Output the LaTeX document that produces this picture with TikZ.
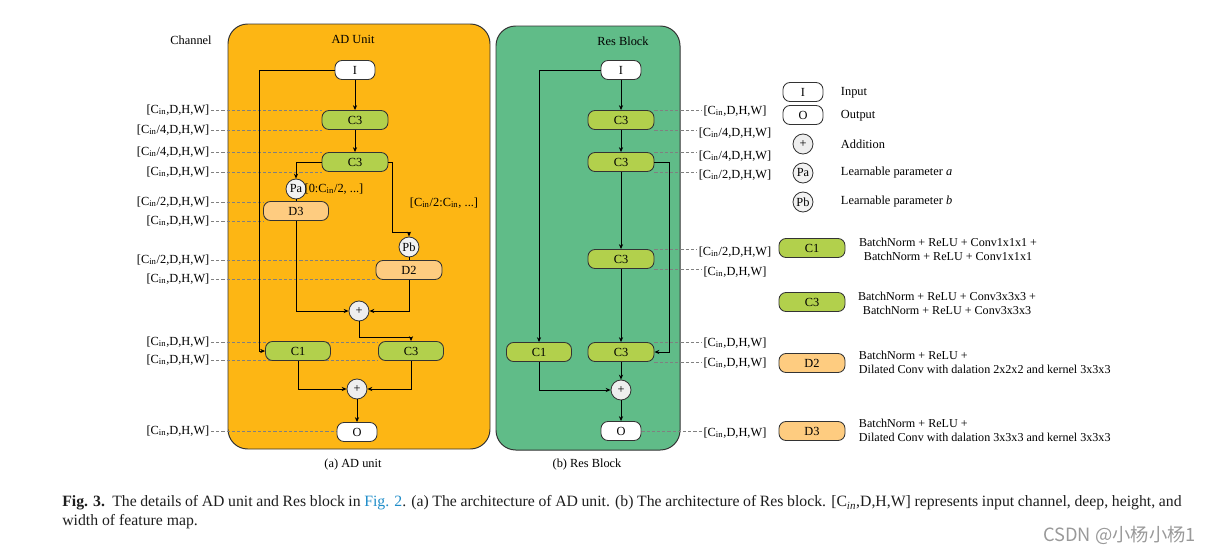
\documentclass[tikz,border=0pt]{standalone}
\usepackage{fontspec}
\setmainfont{Liberation Serif}
\newfontfamily\cjk{Noto Sans CJK SC}
\usetikzlibrary{arrows.meta}
\definecolor{adorange}{RGB}{253,182,20}
\definecolor{resgreen}{RGB}{96,188,136}
\definecolor{cgreen}{RGB}{178,208,76}
\definecolor{dorange}{RGB}{254,204,128}
\definecolor{plusgray}{RGB}{238,238,238}
\definecolor{linkblue}{RGB}{30,140,200}
\definecolor{captxt}{RGB}{30,30,30}
\newcommand{\Cn}{C\textsubscript{in}}
\pgfdeclarelayer{bg}
\pgfdeclarelayer{mid}
\pgfsetlayers{bg,mid,main}
\begin{document}
\begin{tikzpicture}[x=0.025cm,y=-0.025cm,
  font=\fontsize{8.8}{10}\selectfont,
  base/.style={draw=black!80, line width=0.6pt, inner sep=0pt, minimum height=0.475cm, rounded corners=5pt},
  cbox/.style={base, fill=cgreen, minimum width=1.65cm},
  dbox/.style={base, fill=dorange, minimum width=1.65cm},
  iobox/.style={base, fill=white, minimum width=1.0cm},
  circ/.style={circle, draw=black!80, line width=0.6pt, fill=plusgray, minimum size=0.5cm, inner sep=0pt},
  arr/.style={line width=0.6pt, -{Stealth[length=3.5pt,width=3pt]}},
  ln/.style={line width=0.6pt},
  dsh/.style={draw=black!50, line width=0.45pt, dash pattern=on 2.2pt off 1.5pt},
  lbl/.style={inner sep=1pt},
  lgd/.style={font=\fontsize{8.6}{10}\selectfont},
  panel/.style={draw=black!80, line width=0.7pt, rounded corners=14pt}
]
\useasboundingbox (0,0) rectangle (1209,553);

% panels
\begin{pgfonlayer}{bg}
\draw[panel, fill=adorange] (228,24) rectangle (490,449);
\draw[panel, fill=resgreen] (496,26) rectangle (680,450);
\end{pgfonlayer}

\node (tch) at (191,40) {Channel};
\node (tad) at (353,39) {AD Unit};
\node (trb) at (623,41) {Res Block};
\node (cad) at (353,465) {(a) AD unit};
\node (crb) at (587,465) {(b) Res Block};

% ---------- AD unit ----------
\node[iobox] (aI) at (355,70) {I};
\node[cbox] (a3a) at (355,120) {C3};
\node[cbox] (a3b) at (355,162) {C3};
\node[circ, fill=white!95!black] (aPa) at (296,189) {Pa};
\node (aPaL) at (334,189) {[0:\Cn/2, ...]};
\node[dbox, minimum width=1.625cm] (aD3) at (296,211) {D3};
\node (aRL) at (444,203) {[\Cn/2:\Cn, ...]};
\node[circ, fill=white!95!black] (aPb) at (409,247) {Pb};
\node[dbox] (aD2) at (409,270) {D2};
\node[circ] (ap1) at (359,311) {+};
\node[cbox, minimum width=1.625cm] (aC1) at (298,351) {C1};
\node[cbox, minimum width=1.625cm] (a3c) at (411,351) {C3};
\node[circ] (ap2) at (357,389) {+};
\node[iobox] (aO) at (357,432) {O};

\draw[arr] (aI) -- (a3a);
\draw[arr] (a3a) -- (a3b);
\draw[arr] (a3b.west) -| (aPa.north);
\draw[ln] (aPa) -- (aD3);
\draw[arr] (a3b.east) -- ++(4,0) -- ++(0,70) -| (aPb.north);
\draw[ln] (aPb) -- (aD2);
\draw[arr] (aD3.south) |- (ap1.west);
\draw[arr] (aD2.south) |- (ap1.east);
\draw[arr] (ap1.south) -- ++(0,16) -| (a3c.north);
\draw[arr] (aI.west) -- ++(-75,0) |- (aC1.west);
\draw[arr] (aC1.south) |- (ap2.west);
\draw[arr] (a3c.south) |- (ap2.east);
\draw[arr] (ap2) -- (aO);

% AD labels
\node[lbl, anchor=east] (l1) at (211,110) {[\Cn,D,H,W]};
\node[lbl, anchor=east] (l2) at (211,130) {[\Cn/4,D,H,W]};
\node[lbl, anchor=east] (l3) at (211,152) {[\Cn/4,D,H,W]};
\node[lbl, anchor=east] (l4) at (211,172) {[\Cn,D,H,W]};
\node[lbl, anchor=east] (l5) at (211,202) {[\Cn/2,D,H,W]};
\node[lbl, anchor=east] (l6) at (211,221) {[\Cn,D,H,W]};
\node[lbl, anchor=east] (l7) at (211,260) {[\Cn/2,D,H,W]};
\node[lbl, anchor=east] (l8) at (211,279) {[\Cn,D,H,W]};
\node[lbl, anchor=east] (l9) at (211,342) {[\Cn,D,H,W]};
\node[lbl, anchor=east] (l10) at (211,360) {[\Cn,D,H,W]};
\node[lbl, anchor=east] (l11) at (211,431) {[\Cn,D,H,W]};

\begin{pgfonlayer}{mid}
\draw[dsh] (l1.east) -- (l1.east -| a3a.west);
\draw[dsh] (l2.east) -- (l2.east -| a3a.west);
\draw[dsh] (l3.east) -- (l3.east -| a3b.west);
\draw[dsh] (l4.east) -- (l4.east -| a3b.west);
\draw[dsh] (l5.east) -- (l5.east -| aD3.west);
\draw[dsh] (l6.east) -- (l6.east -| aD3.west);
\draw[dsh] (l7.east) -- (l7.east -| aD2.west);
\draw[dsh] (l8.east) -- (l8.east -| aD2.west);
\draw[dsh] (l9.east) -- (l9.east -| a3c.west);
\draw[dsh] (l10.east) -- (l10.east -| a3c.west);
\draw[dsh] (l11.east) -- (l11.east -| aO.west);
\end{pgfonlayer}

% ---------- Res block ----------
\node[iobox] (rI) at (621,70) {I};
\node[cbox] (r3a) at (621,120) {C3};
\node[cbox] (r3b) at (621,162) {C3};
\node[cbox] (r3c) at (621,259) {C3};
\node[cbox] (r3d) at (621,352) {C3};
\node[cbox, minimum width=1.625cm] (rC1) at (539,352) {C1};
\node[circ] (rp) at (621,390) {+};
\node[iobox] (rO) at (621,431) {O};

\draw[arr] (rI) -- (r3a);
\draw[arr] (r3a) -- (r3b);
\draw[arr] (r3b) -- (r3c);
\draw[arr] (r3c) -- (r3d);
\draw[arr] (r3d) -- (rp);
\draw[arr] (rp) -- (rO);
\draw[arr] (rI.west) -| (rC1.north);
\draw[arr] (r3b.east) -- ++(15,0) |- (r3d.east);
\draw[arr] (rC1.south) |- (rp.west);

% Res labels
\node[lbl] (m1) at (735,111) {[\Cn,D,H,W]};
\node[lbl] (m2) at (735,133) {[\Cn/4,D,H,W]};
\node[lbl] (m3) at (735,156) {[\Cn/4,D,H,W]};
\node[lbl] (m4) at (735,175) {[\Cn/2,D,H,W]};
\node[lbl] (m5) at (735,252) {[\Cn/2,D,H,W]};
\node[lbl] (m6) at (735,272) {[\Cn,D,H,W]};
\node[lbl] (m7) at (735,343) {[\Cn,D,H,W]};
\node[lbl] (m8) at (735,363) {[\Cn,D,H,W]};
\node[lbl] (m9) at (735,433) {[\Cn,D,H,W]};

\begin{pgfonlayer}{mid}
\draw[dsh] (r3a.north east) -- (r3a.north east -| m1.west);
\draw[dsh] (r3a.south east) -- (r3a.south east -| m2.west);
\draw[dsh] (r3b.north east) -- (r3b.north east -| m3.west);
\draw[dsh] (r3b.south east) -- (r3b.south east -| m4.west);
\draw[dsh] (r3c.north east) -- (r3c.north east -| m5.west);
\draw[dsh] (r3c.south east) -- (r3c.south east -| m6.west);
\draw[dsh] (r3d.north east) -- (r3d.north east -| m7.west);
\draw[dsh] (r3d.south east) -- (r3d.south east -| m8.west);
\draw[dsh] (rO.east) -- (rO.east -| m9.west);
\end{pgfonlayer}

% ---------- Legend ----------
\node[iobox] (gI) at (803,92) {I};
\node[anchor=west] (gIt) at (836,93) {Input};
\node[iobox] (gO) at (803,115) {O};
\node[anchor=west] (gOt) at (836,116) {Output};
\node[circ] (gp) at (803,144) {+};
\node[anchor=west] (gpt) at (836,144) {Addition};
\node[circ, fill=white!95!black] (gPa) at (803,173) {Pa};
\node[anchor=west] (gPat) at (836,173) {Learnable parameter \textit{a}};
\node[circ, fill=white!95!black] (gPb) at (803,202) {Pb};
\node[anchor=west] (gPbt) at (836,202) {Learnable parameter \textit{b}};

\node[cbox] (gC1) at (812,248) {C1};
\node[lgd, align=center] (gC1t) at (948,249) {BatchNorm + ReLU + Conv1x1x1 +\\ BatchNorm + ReLU + Conv1x1x1};
\node[cbox] (gC3) at (812,302) {C3};
\node[lgd, align=center] (gC3t) at (947,303) {BatchNorm + ReLU + Conv3x3x3 +\\ BatchNorm + ReLU + Conv3x3x3};
\node[dbox] (gD2) at (812,363) {D2};
\node[lgd, align=left, anchor=west] (gD2t) at (854,362) {BatchNorm + ReLU +\\ Dilated Conv with dalation 2x2x2 and kernel 3x3x3};
\node[dbox] (gD3) at (812,431) {D3};
\node[lgd, align=left, anchor=west] (gD3t) at (854,430) {BatchNorm + ReLU +\\ Dilated Conv with dalation 3x3x3 and kernel 3x3x3};

% ---------- Caption ----------
\node[anchor=west, inner sep=0pt, text=captxt, font=\fontsize{11.2}{13}\selectfont] (cap1) at (62,503)
 {\makebox[796pt][s]{\textbf{Fig. 3.}\ \ The details of AD unit and Res block in \textcolor{linkblue}{Fig. 2}. (a) The architecture of AD unit. (b) The architecture of Res block. [C\textsubscript{\textit{in}},D,H,W] represents input channel, deep, height, and}};
\node[anchor=west, inner sep=0pt, text=captxt, font=\fontsize{11.2}{13}\selectfont] (cap2) at (62,522) {width of feature map.};
\node[anchor=east, inner sep=0pt, text=black!40, font=\cjk\fontsize{13}{15}\selectfont] (wm) at (1196,535) {CSDN @小杨小杨1};
\end{tikzpicture}
\end{document}
